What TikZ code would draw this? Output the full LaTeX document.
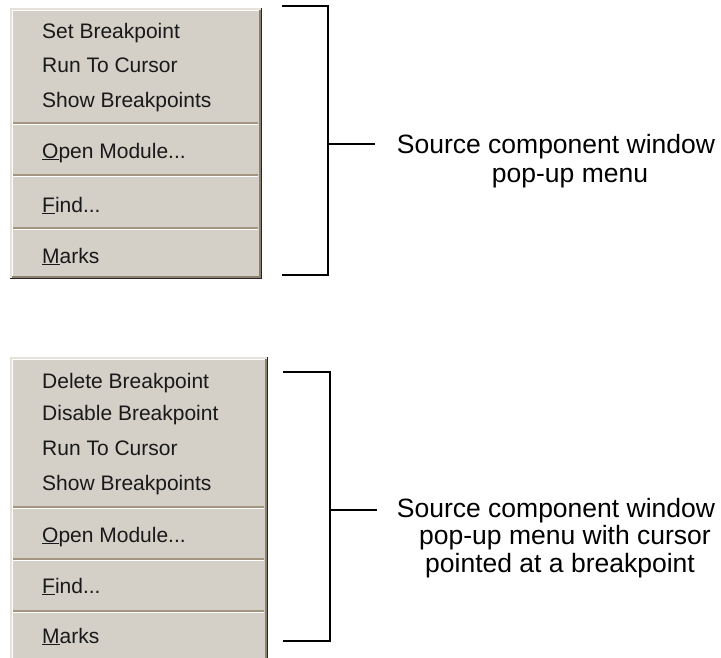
\documentclass[tikz,border=0pt]{standalone}
\usepackage{fontspec}
\setmainfont{Liberation Sans}
\definecolor{menubg}{HTML}{D4D0C8}
\definecolor{sepdark}{HTML}{A39580}
\definecolor{edgegray}{HTML}{8C8070}
\definecolor{edgelight}{HTML}{E6E2DA}
\newcommand\drawmenu[4]{%
 \fill[menubg] (#1,#2) rectangle (#3,#4);
 \fill[black!85] (#3-1.5,#2) rectangle (#3,#4);
 \fill[black!85] (#1,#4-1.5) rectangle (#3,#4);
 \fill[edgegray] (#3-3,#2+1.5) rectangle (#3-1.5,#4-1.5);
 \fill[edgegray] (#1+1.5,#4-3) rectangle (#3-1.5,#4-1.5);
 \fill[edgelight] (#1,#2) rectangle (#1+1.5,#4-1.5);
 \fill[edgelight] (#1,#2) rectangle (#3-1.5,#2+1.5);
 \fill[white] (#1+1.5,#2+1.5) rectangle (#1+3,#4-3);
 \fill[white] (#1+1.5,#2+1.5) rectangle (#3-3,#2+3);
}
\newcommand\menusep[3]{%
 \fill[sepdark] (#1,#3-1) rectangle (#2,#3+0.5);
 \fill[white] (#1,#3+0.5) rectangle (#2,#3+2);
}
\begin{document}
\begin{tikzpicture}[x=1pt,y=-1pt,
  item/.style={anchor=base west, inner sep=0pt, text=black!90, font=\fontsize{21}{25}\selectfont},
  lbl/.style={anchor=base, inner sep=0pt, font=\fontsize{26.5}{30}\selectfont},
  brk/.style={line width=2.4pt, black, line join=miter},
]
\useasboundingbox (0,0) rectangle (721,657);
\clip (0,0) rectangle (721,657);

% ---- top menu ----
\drawmenu{10}{8}{262}{279}
\menusep{13}{258}{123}
\menusep{13}{258}{175}
\menusep{13}{258}{228}
\node[item] (t1) at (42,38) {Set Breakpoint};
\node[item] (t2) at (42,72.5) {Run To Cursor};
\node[item] (t3) at (42,107) {Show Breakpoints};
\node[item] (t4) at (42,158) {\underline{O}pen Module...};
\node[item] (t5) at (42,212) {\underline{F}ind...};
\node[item] (t6) at (42,263) {\underline{M}arks};

% ---- bottom menu ----
\drawmenu{10}{357}{268}{680}
\menusep{13}{264}{507}
\menusep{13}{264}{559}
\menusep{13}{264}{611}
\node[item] (b1) at (42,388) {Delete Breakpoint};
\node[item] (b2) at (42,420) {Disable Breakpoint};
\node[item] (b3) at (42,455) {Run To Cursor};
\node[item] (b4) at (42,490) {Show Breakpoints};
\node[item] (b5) at (42,542) {\underline{O}pen Module...};
\node[item] (b6) at (42,593) {\underline{F}ind...};
\node[item] (b7) at (42,643) {\underline{M}arks};

% ---- top bracket and label ----
\coordinate (ta) at (282,6);
\coordinate (tb) at (328,6);
\coordinate (tc) at (328,275);
\coordinate (td) at (282,275);
\coordinate (tm) at (328,144);
\coordinate (te) at (375,144);
\draw[brk] (ta) -- (tb) -- (tc) -- (td);
\draw[brk] (tm) -- (te);
\node[lbl] (tl1) at (556,153) {Source component window};
\node[lbl] (tl2) at (570,182) {pop-up menu};

% ---- bottom bracket and label ----
\coordinate (ba) at (283,372);
\coordinate (bb) at (330,372);
\coordinate (bc) at (330,641);
\coordinate (bd) at (283,641);
\coordinate (bm) at (330,510);
\coordinate (be) at (377,510);
\draw[brk] (ba) -- (bb) -- (bc) -- (bd);
\draw[brk] (bm) -- (be);
\node[lbl] (bl1) at (556,517) {Source component window};
\node[lbl] (bl2) at (565,544) {pop-up menu with cursor};
\node[lbl] (bl3) at (560,572) {pointed at a breakpoint};
\end{tikzpicture}
\end{document}
